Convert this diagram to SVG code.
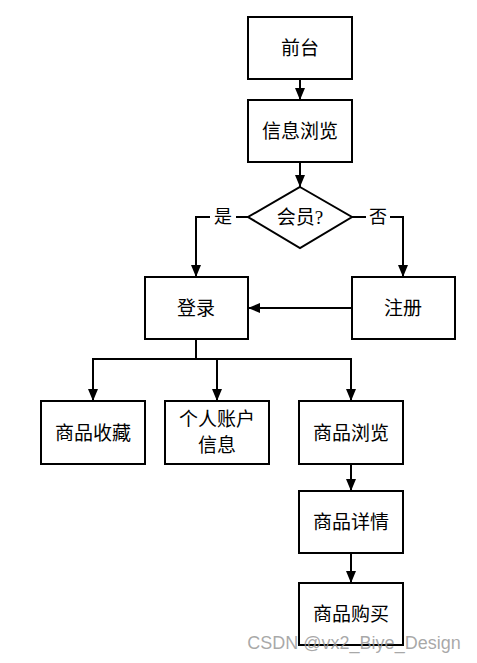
<svg xmlns="http://www.w3.org/2000/svg" width="477" height="663" viewBox="0 0 477 663">
<style>
.n{fill:#fff;stroke:#000;stroke-width:2}
.t{font-family:"Liberation Serif","Noto Sans CJK SC",serif;font-size:19px;fill:#000;text-anchor:middle;dominant-baseline:central}
.c{fill:none;stroke:#000;stroke-width:2}
.l{font-family:"Liberation Serif","Noto Sans CJK SC",serif;font-size:18px;fill:#000;text-anchor:middle;dominant-baseline:central}
</style>
<defs>
<marker id="a" markerUnits="userSpaceOnUse" markerWidth="12" markerHeight="12" viewBox="0 0 12 12" refX="12" refY="6" orient="auto">
<path d="M0,1 L12,6 L0,11 Z" fill="#000"/>
</marker>
</defs>
<rect width="477" height="663" fill="#fff"/>
<g id="connectors">
<line class="c" x1="300" y1="79" x2="300" y2="100" marker-end="url(#a)"/>
<line class="c" x1="300" y1="162" x2="300" y2="187" marker-end="url(#a)"/>
<polyline class="c" points="248,217 196,217 196,277" marker-end="url(#a)"/>
<polyline class="c" points="352,217 403,217 403,277" marker-end="url(#a)"/>
<line class="c" x1="352" y1="308" x2="248" y2="308" marker-end="url(#a)"/>
<line class="c" x1="196" y1="339" x2="196" y2="359"/>
<polyline class="c" points="196,359 93,359 93,401" marker-end="url(#a)"/>
<polyline class="c" points="196,359 351,359 351,401" marker-end="url(#a)"/>
<line class="c" x1="217" y1="359" x2="217" y2="401" marker-end="url(#a)"/>
<line class="c" x1="351" y1="464" x2="351" y2="491" marker-end="url(#a)"/>
<line class="c" x1="351" y1="553" x2="351" y2="583" marker-end="url(#a)"/>
<rect x="210" y="206" width="26" height="22" fill="#fff"/>
<text class="l" x="223" y="217">是</text>
<rect x="366" y="206" width="24" height="22" fill="#fff"/>
<text class="l" x="378" y="217">否</text>
</g>
<g id="qiantai"><rect class="n" x="248" y="17" width="104" height="62"/><text class="t" x="300" y="48">前台</text></g>
<g id="xinxi"><rect class="n" x="248" y="100" width="104" height="62"/><text class="t" x="300" y="131">信息浏览</text></g>
<g id="huiyuan"><polygon class="n" points="300,187 352,217 300,248 248,217"/><text class="t" x="300" y="217">会员?</text></g>
<g id="denglu"><rect class="n" x="145" y="277" width="103" height="62"/><text class="t" x="196" y="308">登录</text></g>
<g id="zhuce"><rect class="n" x="352" y="277" width="103" height="62"/><text class="t" x="403" y="308">注册</text></g>
<g id="shoucang"><rect class="n" x="41" y="401" width="104" height="63"/><text class="t" x="93" y="433">商品收藏</text></g>
<g id="zhanghu"><rect class="n" x="165" y="401" width="104" height="63"/><text class="t" x="217" y="419">个人账户</text><text class="t" x="217" y="445">信息</text></g>
<g id="liulan"><rect class="n" x="299" y="401" width="104" height="63"/><text class="t" x="351" y="433">商品浏览</text></g>
<g id="xiangqing"><rect class="n" x="299" y="491" width="104" height="62"/><text class="t" x="351" y="522">商品详情</text></g>
<g id="goumai"><rect class="n" x="299" y="583" width="104" height="62"/><text class="t" x="351" y="614">商品购买</text></g>
<text x="354" y="643" font-family="'Liberation Sans','DejaVu Sans',sans-serif" font-size="18" fill="#999" fill-opacity="0.85" text-anchor="middle" dominant-baseline="central">CSDN @vx2_Biye_Design</text>
</svg>
